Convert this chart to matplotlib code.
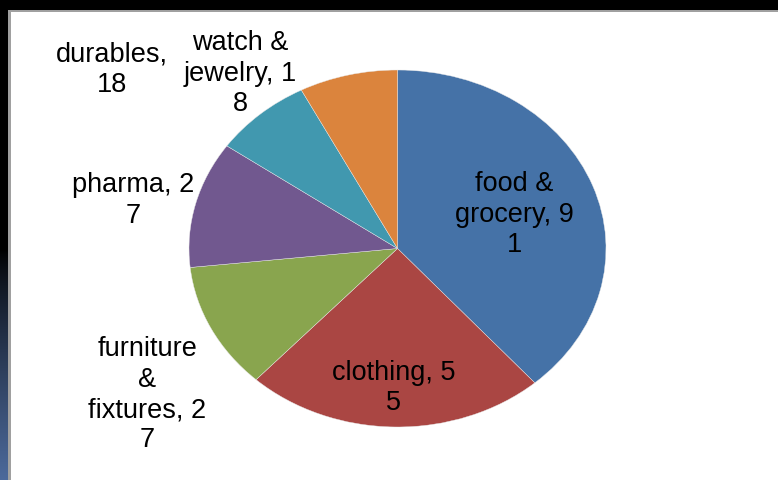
import numpy as np
import matplotlib.pyplot as plt
from matplotlib.patches import Rectangle

categories = ["food & grocery", "clothing", "furniture & fixtures",
              "pharma", "watch & jewelry", "durables"]
values = [91, 55, 27, 27, 18, 18]
colors = ["#4572A7", "#AA4643", "#89A54E", "#71588F", "#4198AF", "#DB843D"]

# where each "name, value" label wraps (character offsets)
label_breaks = [[6, 17], [11], [9, 11, 23], [9], [7, 18], [9]]
# label centres, in pie units (radius 1)
label_x = [0.56, -0.02, -1.20, -1.27, -0.755, -1.37]
label_y = [0.19, -0.78, -0.82, 0.27, 0.98, 1.0]


def wrap_at(text, breaks):
    parts = []
    prev = 0
    for b in breaks + [len(text)]:
        parts.append(text[prev:b].strip())
        prev = b
    return "\n".join(parts)


W, H = 778, 480
fig = plt.figure(figsize=(W / 100, H / 100), dpi=100, facecolor="white")

# slide backdrop: black top band, dark-to-blue strip down the left side
bg = fig.add_axes([0, 0, 1, 1])
bg.set_xlim(0, W)
bg.set_ylim(H, 0)
bg.axis("off")
bg.add_patch(Rectangle((0, 0), W, 10, color="black"))
grad = np.ones((H, 1, 3))
t = np.clip((np.arange(H) - 250) / 230.0, 0, 1)
top_c = np.array([0, 0, 0])
bot_c = np.array([0x4d, 0x6a, 0x9c]) / 255.0
grad[:, 0, :] = top_c + (bot_c - top_c) * t[:, None] ** 0.8
bg.imshow(grad, extent=(0, 8.5, H, 0), aspect="auto")
bg.add_patch(Rectangle((8.5, 10), 2.5, H - 10, color="#a0a0a0", lw=0))
bg.add_patch(Rectangle((8.5, 10), W - 8.5, 2, color="#a0a0a0", lw=0))

# pie box in pixels: x 189..606, y 70..427
left, right, top, bottom = 189, 606, 70, 427
ax = fig.add_axes([left / W, 1 - bottom / H, (right - left) / W, (bottom - top) / H])
ax.pie(values, colors=colors, startangle=90, counterclock=False,
       radius=1, wedgeprops=dict(linewidth=0.3, edgecolor="#e8e8e8"))
ax.set_aspect("auto")
ax.set_xlim(-1, 1)
ax.set_ylim(-1, 1)
ax.axis("off")

for cat, val, br, lx, ly in zip(categories, values, label_breaks, label_x, label_y):
    ax.text(lx, ly, wrap_at(f"{cat}, {val}", br), ha="center", va="center",
            fontsize=19.5, family="Liberation Sans", linespacing=1.22,
            color="black", clip_on=False)

fig.savefig("out.png", dpi=100, facecolor="white")
